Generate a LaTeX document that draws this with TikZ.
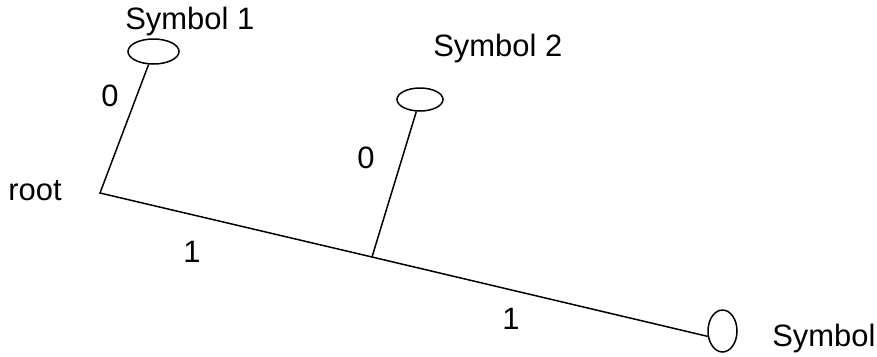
\documentclass[tikz,border=0pt]{standalone}
\usepackage{fontspec}
\setmainfont{Liberation Sans}
\usetikzlibrary{shapes.geometric}
\begin{document}
\begin{tikzpicture}[x=0.02cm,y=-0.02cm,font=\fontsize{17.6}{21}\selectfont,
  leaf/.style={draw,ellipse,inner sep=0pt,line width=0.03cm},
  branch/.style={line width=0.03cm},
  lab/.style={inner sep=0pt}]
  \useasboundingbox (0,0) rectangle (877,356);

  % leaves
  \node[leaf,minimum width=1.02cm,minimum height=0.5cm] (sym1) at (153.5,51.5) {};
  \node[leaf,minimum width=0.92cm,minimum height=0.46cm] (sym2) at (420,99.5) {};
  \node[leaf,minimum width=0.58cm,minimum height=0.84cm] (sym3) at (722.5,331) {};
  \coordinate (root) at (100,193);
  \coordinate (mid) at (372,257);

  % branches
  \draw[branch] (sym1) -- (root) -- (mid) -- (sym3.200);
  \draw[branch] (mid) -- (sym2);

  % texts
  \node[lab,anchor=base west] (t1) at (125,29) {Symbol 1};
  \node[lab,anchor=base west] (t2) at (433,56) {Symbol 2};
  \node[lab,anchor=base west] (t3) at (772,346) {Symbol};
  \node[lab,anchor=base west] (troot) at (8,200) {root};
  \node[lab] (b1) at (110,96) {0};
  \node[lab] (b2) at (366,158) {0};
  \node[lab] (b3) at (192,252) {1};
  \node[lab] (b4) at (511,319) {1};
\end{tikzpicture}
\end{document}
